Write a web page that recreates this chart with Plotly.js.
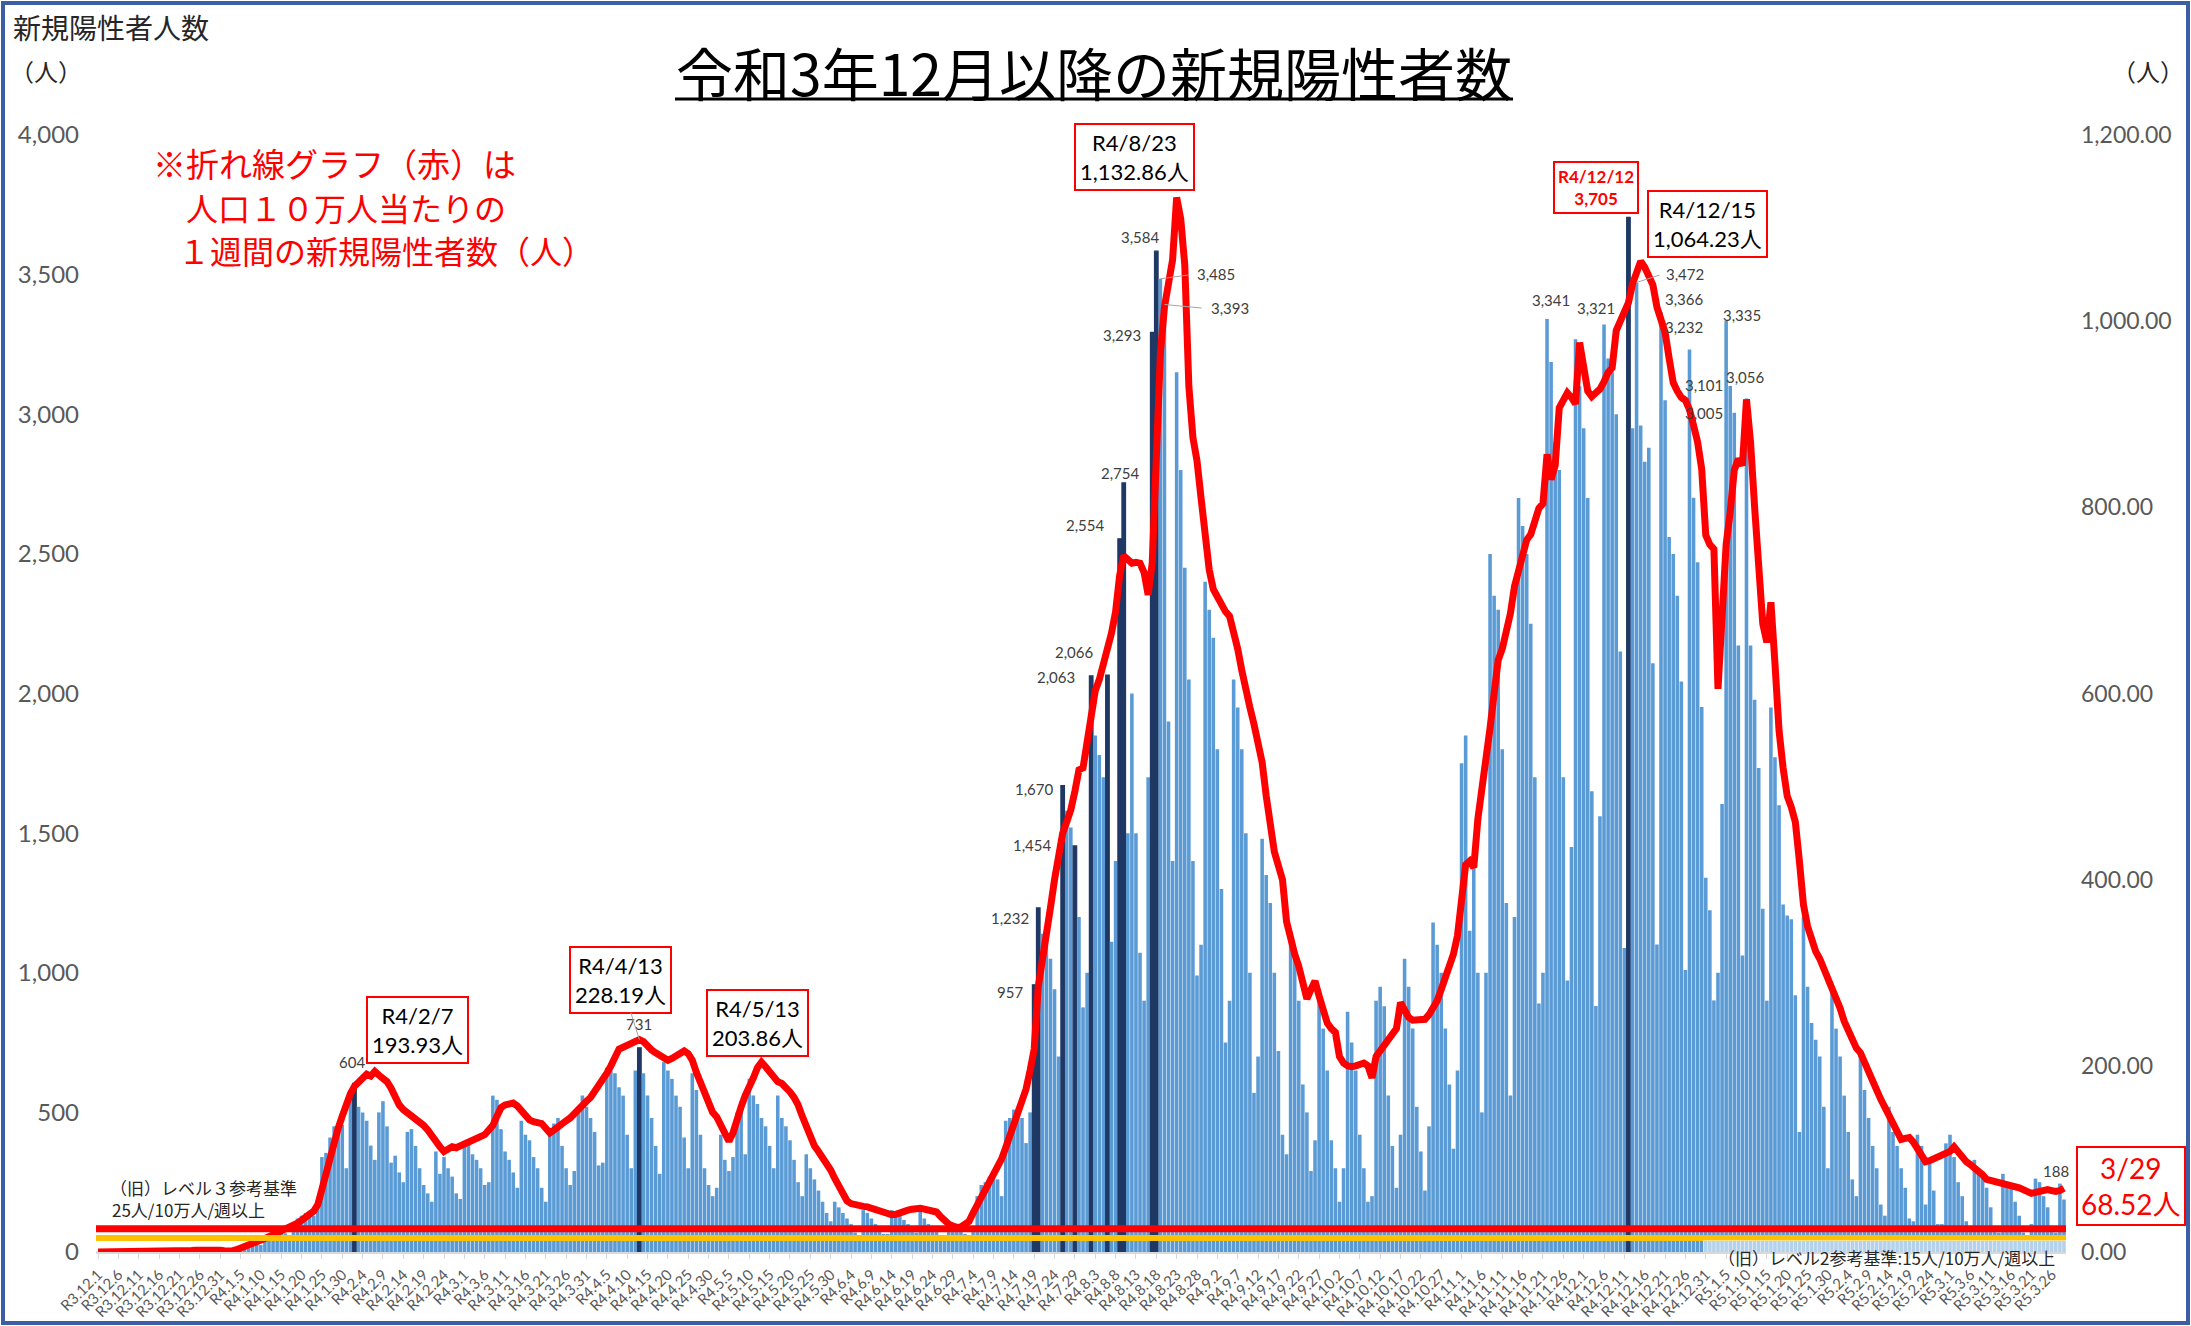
<!DOCTYPE html>
<html><head><meta charset="utf-8">
<script src="https://cdn.plot.ly/plotly-3.0.1.min.js"></script>
<style>html,body{margin:0;padding:0;background:#fff;}#chart{width:2191px;height:1326px;}</style>
</head><body><div id="chart"></div>
<script>
// ---------------- DATA ----------------
// first day of the series: R3.12.1 (2021-12-01), one category per day
const firstDay = {year: 2021, month: 12, day: 1};
const dayCount = 484;

// daily new positive cases (left axis)
const dailyCases = [
  1,0,2,0,1,
  0,1,0,2,1,0,1,
  0,2,1,3,1,2,1,
  0,4,6,8,5,7,4,
  2,5,6,3,4,2,3,
  4,10,18,22,30,35,36,
  25,40,48,55,62,68,67,
  50,95,120,130,140,135,130,
  170,340,355,410,450,420,455,
  300,545,604,520,500,470,381,
  330,500,540,450,320,345,285,
  250,430,440,380,300,240,210,
  180,360,280,340,300,270,210,
  190,380,390,350,330,300,240,
  250,560,545,440,360,330,285,
  230,470,420,400,340,300,230,
  180,420,460,480,380,300,240,
  290,520,560,520,480,430,310,
  320,660,650,640,590,560,420,
  300,650,731,640,560,480,380,
  280,680,650,620,560,520,410,
  300,640,580,420,300,240,200,
  230,420,330,290,340,500,540,
  350,620,560,530,480,450,380,
  300,560,480,450,400,330,250,
  200,350,300,260,220,180,140,
  110,180,160,140,120,100,70,
  60,150,140,120,100,90,65,
  65,150,140,135,115,100,75,
  70,150,120,100,90,75,55,
  50,90,80,85,75,65,55,
  80,200,240,250,270,260,260,
  200,470,480,510,500,480,390,
  500,957,1232,1140,1100,1050,941,
  700,1670,1580,1520,1454,1200,876,
  1000,2063,1850,1780,1700,2066,1111,
  1400,2554,2754,1500,2000,1500,1072,
  900,1700,3293,3584,3485,3393,1900,
  1400,3150,2800,2450,2050,1400,990,
  1100,2400,2300,2200,1800,1300,750,
  900,2050,1950,1800,1500,1000,570,
  700,1480,1350,1250,1000,720,420,
  350,1150,1050,900,600,500,290,
  400,900,800,650,400,300,180,
  300,860,750,650,420,300,180,
  200,900,950,880,560,380,230,
  420,1050,950,800,520,360,220,
  450,1180,1100,1000,800,600,370,
  650,1750,1850,1150,1400,1000,500,
  1000,2500,2350,2300,1800,1250,560,
  1200,2700,2600,2500,2250,1700,890,
  1000,3341,3187,2900,2800,1700,972,
  1450,3269,3100,2950,2700,1650,881,
  1560,3321,3200,3150,3000,2150,1089,
  3705,2950,3472,2960,2830,2880,2108,
  1101,3366,3050,2560,2500,2350,2043,
  1010,3232,2701,2470,1952,1340,1224,
  901,1000,1604,3335,3101,3005,2172,
  1062,3056,2172,1978,1733,1229,900,
  1950,1772,1600,1244,1205,1192,919,
  430,1200,950,820,760,700,520,
  300,930,800,700,560,430,260,
  200,711,580,480,380,300,170,
  130,520,430,380,300,230,120,
  110,420,380,170,330,220,100,
  100,389,420,340,250,200,110,
  90,330,300,290,230,160,90,
  70,280,250,230,180,130,70,
  60,100,263,250,200,160,90,
  70,245,188
];

// new positives per 100,000 population over one week (right axis, red line)
const weeklyPer100k = [
  0.1,0.1,0.2,0.2,0.2,0.2,0.1,0.1,0.1,0.2,
  0.2,0.3,0.3,0.3,0.3,0.4,0.4,0.5,0.5,0.6,
  0.8,1.0,1.4,1.7,2.0,2.2,2.4,2.4,2.2,2.0,
  1.8,1.3,1.0,1.2,2.5,4.0,5.5,7.5,9.0,11.0,
  12.5,14.5,16.5,18.5,20,21.5,23.5,26,28.5,31,
  34,37,40,44,51,68,86,104,118,133,
  146,160,170,178,183,187,191,189,193.93,190,
  187,183,176,166,158,153,150,147,143,140,
  136,131,124,118,113,108,110,113,112,114,
  116,118,121,124,125,126,131,136,146,155,
  158,160,160,157,152,145,142,140,139,138,
  133,128,131,135,138,141,144,149,153,158,
  162,166,172,179,185,192,200,210,218,220,
  222,224,226,228.19,226,221,217,214,211,208,
  206,208,211,215,216,213,206,193,182,170,
  158,150,145,136,127,119,128,145,156,168,
  176,187,198,203.86,199,194,187,183,181,177,
  172,166,158,146,135,122,114,108,102,95,
  88,79,70,61,55,52,50.5,50,49,48.5,
  47,45,43.5,42,41,40,40.5,42.5,44,45,
  46,47,47,46,45,44,43,38,33,30,
  28,26.5,27,29,33,42,50,59,66,76,
  83,89,100,112,125,138,153,164,175,195,
  218,285,318,340,370,400,431,450,462,475,
  495,518,520,545,575,603,615,630,650,665,
  688,727,748,745,740,741,740,730,706,740,
  857,965,1015,1040,1066,1132.86,1110,1060,930,875,
  850,810,765,733,712,703,694,688,683,668,
  648,625,601,585,567,545,526,490,455,430,
  415,400,355,335,320,307,290,272,282,291,
  275,257,246,240,236,210,203,200,199,200,
  201,203,200,187,210,216,222,228,234,240,
  268,260,252,249,249,249,250,255,263,270,
  282,295,307,320,340,385,416,420,413,465,
  495,530,563,600,636,648,665,686,715,733,
  750,765,771,785,799,804,857,830,845,907,
  915,923,918,911,977,950,925,919,922,927,
  935,945,950,990,1000,1010,1020,1040,1055,1064.23,
  1058,1048,1039,1015,1000,988,960,934,925,918,
  915,905,888,870,841,770,760,755,605,680,
  760,795,840,852,845,916,870,800,741,675,
  655,698,632,560,520,490,478,462,420,373,
  350,335,323,315,305,295,285,276,262,248,
  237,228,219,214,205,195,185,174,164,155,
  146,137,128,121,122,123,118,110,105,97,
  98,100,101,102,104,108,113,107,101,97,
  94,91,88,83,78,77,76,75.5,74.5,73,
  72,70,69,67,65,63,64,65,66,67,
  66,65,66,68.52
];

// reference levels (per 100,000 / week)
const level3Value = 25;
const level2Value = 15;

// bars that are drawn highlighted (dark)
const highlightedValues = [604,731,957,1232,1454,1670,2063,2066,2554,2754,3293,3584,3705];
// bar value labels
const labelledValues = ['604','731','957','1,232','1,454','1,670','2,063','2,066','2,554','2,754','3,293','3,584',
  '3,485','3,393','3,341','3,321','3,472','3,366','3,232','3,335','3,101','3,005','3,056','188'];

// left / right axis tick values
const leftTicks = [0,500,1000,1500,2000,2500,3000,3500,4000];
const rightTicks = [0,200,400,600,800,1000,1200];

// ---------------- BUILD ----------------
const categories = [];
for (let i = 0; i < dayCount; i++) {
  const dt = new Date(Date.UTC(firstDay.year, firstDay.month - 1, firstDay.day + i));
  categories.push('R' + (dt.getUTCFullYear() - 2018) + '.' + (dt.getUTCMonth() + 1) + '.' + dt.getUTCDate());
}
const tickCats = categories.filter((_, i) => i % 5 === 0);

const JP = '"Noto Sans CJK JP", "Noto Sans", sans-serif';
const NUM = 'Lato, "Noto Sans CJK JP", sans-serif';
const BAR = '#5b9bd5', BAR_DARK = '#1f3864';

const isDark = dailyCases.map(v => highlightedValues.includes(v));
const barColors = isDark.map(h => h ? BAR_DARK : BAR);
const barLineW = isDark.map(h => h ? 1.2 : 0);

const traces = [
  {type: 'bar', x: categories, y: dailyCases, yaxis: 'y',
   marker: {color: barColors, line: {width: barLineW, color: barColors}}, hoverinfo: 'skip', showlegend: false},
  {type: 'scatter', mode: 'lines', x: categories, y: weeklyPer100k, yaxis: 'y2',
   line: {color: '#ff0000', width: 7}, hoverinfo: 'skip', showlegend: false}
];

// plot frame in image pixels
const L = 96, R = 2066, T = 135, B = 1252;
const px = X => (X - L) / (R - L);
const py = Y => (B - Y) / (B - T);

const ann = [];
function txt(X, Y, text, size, color, anchor, family) {
  ann.push({xref: 'paper', yref: 'paper', x: px(X), y: py(Y), text: text, showarrow: false,
    xanchor: anchor || 'center', yanchor: 'middle', font: {size: size, color: color, family: family || JP}});
}
// headings
txt(1094, 71, '令和3年12月以降の新規陽性者数', 57, '#000000');
txt(11, 27, '新規陽性者人数', 28, '#262626', 'left');
txt(46, 70, '（人）', 24, '#262626');
txt(2148, 70, '（人）', 24, '#262626');
// red note
txt(151, 163, '※折れ線グラフ（赤）は', 33, '#ff0000', 'left');
txt(184, 207, '人口１０万人当たりの', 32, '#ff0000', 'left');
txt(176, 250, '１週間の新規陽性者数（人）', 32, '#ff0000', 'left');
// level texts
txt(108, 1187, '（旧）レベル３参考基準', 17, '#262626', 'left');
txt(110, 1209, '25人/10万人/週以上', 17, '#262626', 'left');
txt(1716, 1257, '（旧）レベル2参考基準:15人/10万人/週以上', 17, '#262626', 'left');

// bar value labels (data coordinates)
const barLabelPos = [[62.5,681],[133,816],[224,931],[224,1196],[229.6,1457],[230,1657],[235.4,2058],[239.9,2148],
  [242.6,2603],[251.2,2789],[251.5,3284],[256,3635],[274.6,3504],[278,3379],[357,3409],[368,3379],[390,3504],
  [389.7,3414],[389.7,3314],[403.8,3354],[394.5,3104],[394.5,3004],[404.8,3134],[481,290]];
labelledValues.forEach((t, i) => {
  ann.push({xref: 'x', yref: 'y', x: barLabelPos[i][0], y: barLabelPos[i][1], text: t, showarrow: false,
    xanchor: 'center', yanchor: 'middle', font: {size: 15, color: '#404040', family: NUM}});
});
// leader lines for some labels
function leader(fromD, fromV, toD, toV) {
  ann.push({xref: 'x', yref: 'y', x: toD, y: toV, axref: 'x', ayref: 'y', ax: fromD, ay: fromV, text: '',
    showarrow: true, arrowhead: 0, arrowwidth: 1, arrowcolor: '#a6a6a6'});
}
leader(268.5, 3500, 261, 3485);
leader(271.5, 3380, 262, 3393);
leader(384, 3500, 378, 3472);

// boxed annotations on the red line (right axis coordinates)
function box(d, v, text, size, color, extra) {
  ann.push(Object.assign({xref: 'x', yref: 'y2', x: d, y: v, text: text, showarrow: false,
    xanchor: 'center', yanchor: 'middle', align: 'center', bgcolor: '#ffffff', bordercolor: '#ff0000',
    borderwidth: 2, borderpad: 4, font: {size: size, color: color, family: NUM}}, extra || {}));
}
box(78.5, 238, 'R4/2/7<br>193.93人', 22, '#000000');
box(161.9, 245.6, 'R4/5/13<br>203.86人', 22, '#000000');
box(254.6, 1176, 'R4/8/23<br>1,132.86人', 22, '#000000');
box(368, 1144, '<b>R4/12/12<br>3,705</b>', 17, '#ff0000', {borderpad: 3});
box(395.5, 1104, 'R4/12/15<br>1,064.23人', 22, '#000000');
ann.push({xref: 'x', yref: 'y2', x: 133, y: 228.19, ax: -19, ay: -60, text: 'R4/4/13<br>228.19人',
  showarrow: true, arrowhead: 0, arrowwidth: 1, arrowcolor: '#a6a6a6', align: 'center', bgcolor: '#ffffff',
  bordercolor: '#ff0000', borderwidth: 2, borderpad: 4, font: {size: 22, color: '#000000', family: NUM}});
ann.push({xref: 'paper', yref: 'y2', x: px(2131), y: 71, text: '3/29<br>68.52人', showarrow: false,
  xanchor: 'center', yanchor: 'middle', align: 'center', bgcolor: '#ffffff', bordercolor: '#ff0000',
  borderwidth: 2, borderpad: 3, font: {size: 28, color: '#ff0000', family: NUM}});

const shapes = [
  // outer frame
  {type: 'rect', xref: 'paper', yref: 'paper', x0: px(3), x1: px(2188), y0: py(1323), y1: py(3),
   line: {color: '#3b5ea6', width: 4}, fillcolor: 'rgba(0,0,0,0)', layer: 'above'},
  // title underline
  {type: 'line', xref: 'paper', yref: 'paper', x0: px(675), x1: px(1513), y0: py(99), y1: py(99),
   line: {color: '#000000', width: 3}},
  // reference level lines
  {type: 'line', xref: 'paper', yref: 'y2', x0: 0, x1: 1, y0: level2Value, y1: level2Value,
   line: {color: '#ffc000', width: 6}, layer: 'above'},
  {type: 'line', xref: 'paper', yref: 'y2', x0: 0, x1: 1, y0: level3Value, y1: level3Value,
   line: {color: '#ff0000', width: 7}, layer: 'above'},
  // translucent backing under the level-2 label
  {type: 'rect', xref: 'paper', yref: 'paper', x0: px(1703), x1: 1, y0: 0, y1: py(1240),
   fillcolor: 'rgba(255,255,255,0.55)', line: {width: 0}, layer: 'above'}
];

const layout = {
  width: 2191, height: 1326,
  margin: {l: L, r: 2191 - R, t: T, b: 1326 - B, pad: 0},
  paper_bgcolor: '#ffffff', plot_bgcolor: '#ffffff',
  bargap: 0.12, showlegend: false,
  font: {family: NUM, color: '#595959'},
  xaxis: {type: 'category', range: [-0.5, dayCount - 0.5], tickmode: 'array', tickvals: tickCats, ticktext: tickCats,
    tickangle: -45, tickfont: {size: 15, color: '#595959', family: NUM}, showline: true, linecolor: '#d9d9d9',
    linewidth: 2, ticks: 'outside', ticklen: 5, tickcolor: '#d9d9d9', showgrid: false, zeroline: false,
    ticklabelstandoff: 1, fixedrange: true, automargin: false},
  yaxis: {range: [0, 4000], tickmode: 'array', tickvals: leftTicks, tickformat: ',', showgrid: false, zeroline: false,
    showline: false, ticks: '', tickfont: {size: 24, color: '#595959', family: NUM}, ticklabelstandoff: 16},
  yaxis2: {range: [0, 1200], overlaying: 'y', side: 'right', tickmode: 'array', tickvals: rightTicks,
    tickformat: ',.2f', showgrid: false, zeroline: false, showline: false, ticks: '',
    tickfont: {size: 23, color: '#595959', family: NUM}, ticklabelstandoff: 14},
  annotations: ann,
  shapes: shapes
};

Plotly.newPlot('chart', traces, layout, {staticPlot: true, displayModeBar: false});
</script>
</body></html>
